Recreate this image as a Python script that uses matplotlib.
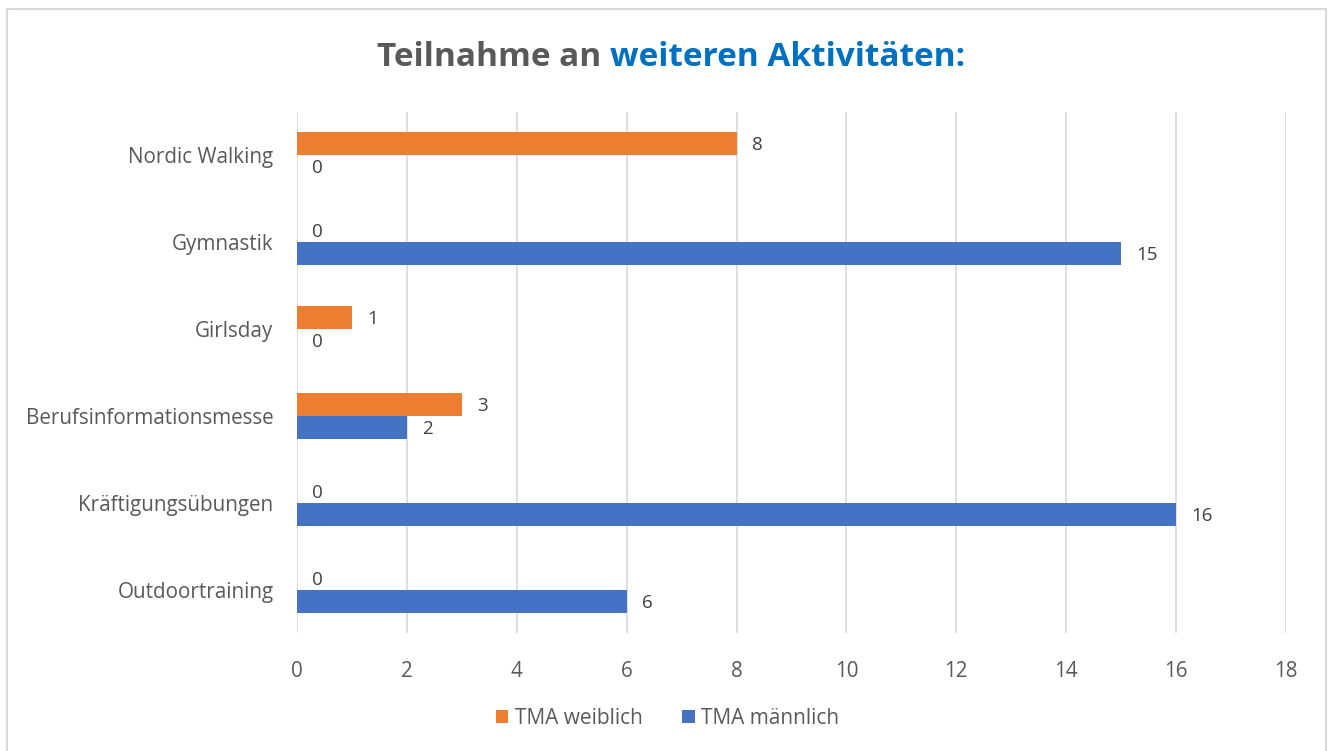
import matplotlib
matplotlib.use('Agg')
import matplotlib.pyplot as plt
import numpy as np
from matplotlib.patches import Rectangle

categories = ['Outdoortraining', 'Kräftigungsübungen', 'Berufsinformationsmesse',
              'Girlsday', 'Gymnastik', 'Nordic Walking']
weiblich = [0, 0, 3, 1, 0, 8]
maennlich = [6, 16, 2, 0, 15, 0]
xticks = [0, 2, 4, 6, 8, 10, 12, 14, 16, 18]

orange = '#ED7D31'
blue = '#4472C4'
grey = '#595959'

plt.rcParams['font.family'] = ['Open Sans', 'DejaVu Sans']

fig = plt.figure(figsize=(13.35, 7.51), dpi=100)
ax = fig.add_axes([0.2225, 0.1565, 0.7408, 0.695])

y = np.arange(len(categories))
h = 0.265
b1 = ax.barh(y + h / 2, weiblich, height=h, color=orange, label='TMA weiblich', zorder=3)
b2 = ax.barh(y - h / 2, maennlich, height=h, color=blue, label='TMA männlich', zorder=3)

for bars, vals in ((b1, weiblich), (b2, maennlich)):
    for bar, v in zip(bars, vals):
        ax.annotate(str(v), (v, bar.get_y() + bar.get_height() / 2),
                    xytext=(11, -1), textcoords='offset points',
                    ha='left', va='center', fontsize=13.5, color='#404040')

ax.set_xlim(0, 18)
ax.set_ylim(-0.5, len(categories) - 0.5)
ax.set_xticks(xticks)
ax.set_yticks(y)
ax.set_yticklabels(categories)
ax.tick_params(length=0, labelsize=14.9, colors=grey)
ax.tick_params(axis='x', pad=20)
ax.tick_params(axis='y', pad=17)
ax.grid(axis='x', color='#D9D9D9', linewidth=1.2, zorder=0)
for s in ax.spines.values():
    s.set_visible(False)

fig.legend(handles=[b1, b2], loc='center', bbox_to_anchor=(0.5, 0.043), ncol=2,
           frameon=False, fontsize=15, handlelength=0.6, handleheight=0.6,
           handletextpad=0.3, columnspacing=1.9, labelcolor=grey)

# two-coloured title
t1 = fig.text(0, 0.923, 'Teilnahme an ', fontsize=24, fontweight='bold', color=grey, va='center')
t2 = fig.text(0, 0.923, 'weiteren Aktivitäten:', fontsize=24, fontweight='bold', color='#0070C0', va='center')
fig.canvas.draw()
r = fig.canvas.get_renderer()
w1 = t1.get_window_extent(r).width / fig.bbox.width
w2 = t2.get_window_extent(r).width / fig.bbox.width
x0 = 0.5 - (w1 + w2) / 2 + 0.0025
t1.set_x(x0)
t2.set_x(x0 + w1)

fig.patches.append(Rectangle((0.0055, -0.01), 0.988, 0.998, transform=fig.transFigure,
                             fill=False, edgecolor='#D9D9D9', linewidth=1.5))

fig.savefig('out.png', dpi=100)
